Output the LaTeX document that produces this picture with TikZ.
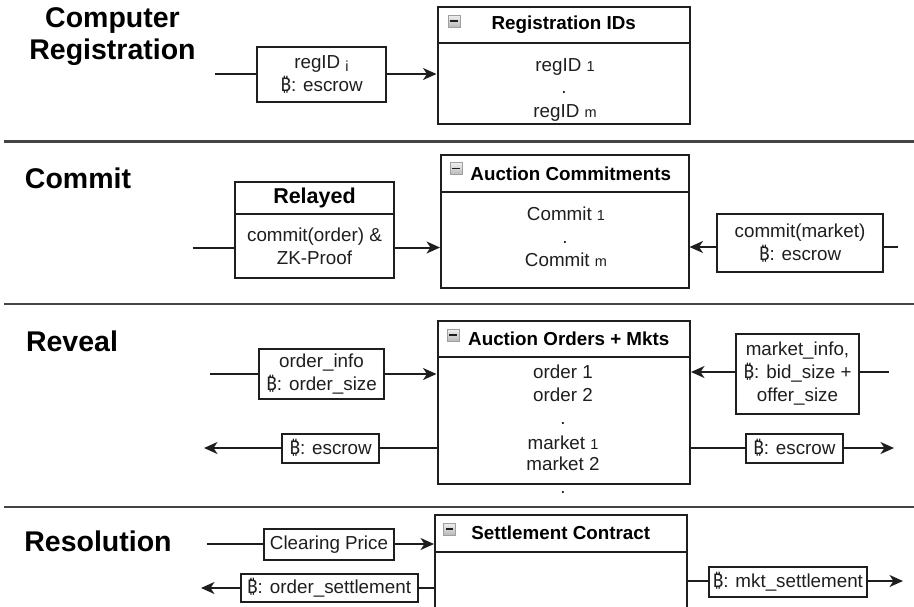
\documentclass[tikz,border=0pt]{standalone}
\usepackage{fontspec}
\setmainfont{Liberation Sans}
\newfontfamily\btcfont{Noto Sans}
\usetikzlibrary{arrows.meta}
\definecolor{ink}{HTML}{1E1E1E}
\definecolor{rulegray}{HTML}{444444}
\newcommand\btc{{\btcfont ₿}}
\newcommand\bodysize{\fontsize{18.8}{23}\selectfont}
\newcommand\headsize{\fontsize{18.8}{22}\selectfont\bfseries}
\newcommand\titlesize{\fontsize{28.5}{32}\selectfont\bfseries}
\newcommand\idx[1]{{\fontsize{14.5}{14.5}\selectfont #1}}
\tikzset{
  box/.style={draw=ink, line width=2pt, rectangle, inner sep=0pt,
    align=center, font=\bodysize, text=ink},
  headbox/.style={box, font=\headsize, text=black},
  txt/.style={inner sep=0pt, anchor=base, font=\bodysize, text=ink},
  title/.style={inner sep=0pt, anchor=base, font=\titlesize, text=black},
  wire/.style={draw=ink, line width=2pt},
  arr/.style={wire, -{Stealth[length=13.5pt,width=12pt,inset=4pt]}},
  sep/.style={draw=rulegray, line width=2.8pt},
  icon/.style={draw=gray!75, line width=0.6pt, minimum size=12pt, inner sep=0pt,
    top color=gray!12, bottom color=gray!55,
    path picture={\draw[line width=1.7pt, ink]
      ([xshift=-3.6pt]path picture bounding box.center) --
      ([xshift=3.6pt]path picture bounding box.center);}}
}
\begin{document}
\begin{tikzpicture}[x=1pt,y=-1pt]
\useasboundingbox (0,0) rectangle (914,606);

% section dividers
\draw[sep] (4,141.5) -- (914,141.5);
\draw[sep] (4,304) -- (914,304);
\draw[sep] (4,507) -- (914,507);

% ---------- Computer Registration ----------
\node[title] (t1a) at (112.5,27) {Computer};
\node[title] (t1b) at (112.5,59.5) {Registration};

\coordinate (s1) at (215,74);
\node[box, minimum width=129pt, minimum height=55pt] (in1) at (321.5,74.5)
  {regID \raisebox{-3pt}{\idx{i}}\\\btc: escrow};
\node[headbox, minimum width=252.5pt, minimum height=36pt] (reghead) at (563.75,25) {Registration IDs};
\node[box, minimum width=252.5pt, minimum height=81pt] (regbody) at (563.75,83.5) {};
\node[icon] (regicon) at (454,21) {};
\node[txt] (reg1) at (565,71) {regID \idx{1}};
\node[txt] (regdot) at (564,93) {.};
\node[txt] (regm) at (565,117) {regID \idx{m}};

\draw[wire] (s1) -- (in1.west |- s1);
\draw[arr] (in1.east |- s1) -- (regbody.west |- s1);

% ---------- Commit ----------
\node[title] (t2) at (78,188) {Commit};

\coordinate (s2) at (192.5,247.5);
\node[headbox, font=\fontsize{21.5}{24}\selectfont\bfseries, minimum width=159pt, minimum height=32pt] (relhead) at (314.5,198) {Relayed};
\node[box, minimum width=159pt, minimum height=64pt] (relbody) at (314.5,246)
  {commit(order) \&\\ZK-Proof};
\node[headbox, minimum width=247.5pt, minimum height=37pt] (achead) at (564.75,173.5) {\hspace*{12pt}Auction Commitments};
\node[box, minimum width=247.5pt, minimum height=96pt] (acbody) at (564.75,240) {};
\node[icon] (acicon) at (456,168.5) {};
\node[txt] (ac1) at (566,220) {Commit \idx{1}};
\node[txt] (acdot) at (565,243) {.};
\node[txt] (acm) at (566,266.5) {Commit \idx{m}};
\node[box, minimum width=166pt, minimum height=58pt] (cm) at (800,243)
  {commit(market)\\\btc: escrow};
\coordinate (e2) at (898,247);

\draw[wire] (s2) -- (relbody.west |- s2);
\draw[arr] (relbody.east |- s2) -- (acbody.west |- s2);
\draw[wire] (e2) -- (cm.east |- e2);
\draw[arr] (cm.west |- e2) -- (acbody.east |- e2);

% ---------- Reveal ----------
\node[title] (t3) at (72,351) {Reveal};

\coordinate (s3) at (210,374);
\node[box, minimum width=125pt, minimum height=50pt] (oi) at (321.5,374)
  {order\_info\\\btc: order\_size};
\node[headbox, minimum width=252.5pt, minimum height=36.5pt] (aohead) at (563.75,338.75) {\hspace*{10pt}Auction Orders + Mkts};
\node[box, minimum width=252.5pt, minimum height=127pt] (aobody) at (563.75,420.5) {};
\node[icon] (aoicon) at (453,335) {};
\node[txt] (ao1) at (563,378.5) {order 1};
\node[txt] (ao2) at (563,401.5) {order 2};
\node[txt] (aodot) at (563,424.5) {.};
\node[txt] (ao3) at (563,449) {market \idx{1}};
\node[txt] (ao4) at (563,470) {market 2};
\node[txt] (aodot2) at (563,493) {.};
\node[box, minimum width=123pt, minimum height=80.5pt] (mi) at (797.5,373.75)
  {market\_info,\\\btc: bid\_size +\\offer\_size};
\coordinate (e3) at (889,372);
\node[box, minimum width=97pt, minimum height=28.5pt] (esl) at (330.5,448.25) {\btc: escrow};
\node[box, minimum width=96.5pt, minimum height=28.5pt] (esr) at (794.25,448.25) {\btc: escrow};
\coordinate (l3) at (204,448);
\coordinate (r3) at (894,448);

\draw[wire] (s3) -- (oi.west |- s3);
\draw[arr] (oi.east |- s3) -- (aobody.west |- s3);
\draw[wire] (e3) -- (mi.east |- e3);
\draw[arr] (mi.west |- e3) -- (aobody.east |- e3);
\draw[wire] (aobody.west |- l3) -- (esl.east |- l3);
\draw[arr] (esl.west |- l3) -- (l3);
\draw[wire] (aobody.east |- r3) -- (esr.west |- r3);
\draw[arr] (esr.east |- r3) -- (r3);

% ---------- Resolution ----------
\node[title] (t4) at (98,551.5) {Resolution};

\coordinate (s4) at (207,544);
\node[box, minimum width=130pt, minimum height=30.5pt] (cp) at (329,544.25) {Clearing Price};
\node[headbox, minimum width=251.5pt, minimum height=37pt] (schead) at (560.75,533) {Settlement Contract};
\node[box, minimum width=251.5pt, minimum height=60.5pt] (scbody) at (560.75,581.75) {};
\node[icon] (scicon) at (449.5,529) {};
\node[box, minimum width=177pt, minimum height=27.5pt] (os) at (329,587.75) {\btc: order\_settlement};
\node[box, minimum width=158.5pt, minimum height=30pt] (ms) at (787.75,582) {\btc: mkt\_settlement};
\coordinate (l4) at (201,588);
\coordinate (r4) at (903,581);

\draw[wire] (s4) -- (cp.west |- s4);
\draw[arr] (cp.east |- s4) -- (scbody.west |- s4);
\draw[wire] (scbody.west |- l4) -- (os.east |- l4);
\draw[arr] (os.west |- l4) -- (l4);
\draw[wire] (scbody.east |- r4) -- (ms.west |- r4);
\draw[arr] (ms.east |- r4) -- (r4);
\end{tikzpicture}
\end{document}
